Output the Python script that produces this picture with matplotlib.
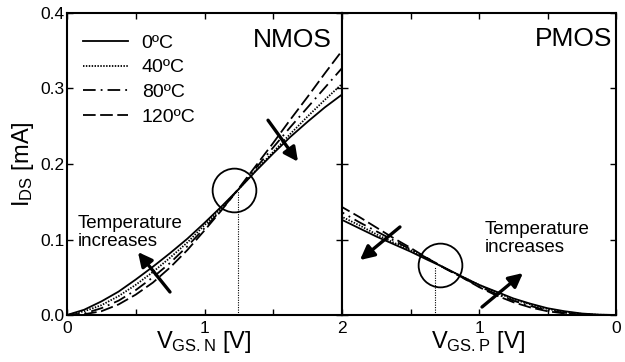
import matplotlib
matplotlib.use('Agg')
import matplotlib.pyplot as plt

plt.rcParams['font.family'] = ['Liberation Sans', 'DejaVu Sans']
plt.rcParams['mathtext.fontset'] = 'custom'
plt.rcParams['mathtext.rm'] = 'Liberation Sans'
plt.rcParams['mathtext.it'] = 'Liberation Sans:italic'
plt.rcParams['mathtext.bf'] = 'Liberation Sans:bold'

# ---------------- data ----------------
temps = ['0ºC', '40ºC', '80ºC', '120ºC']
v_gs = [0, 0.125, 0.25, 0.375, 0.5, 0.625, 0.75, 0.875, 1.0,
        1.125, 1.25, 1.375, 1.5, 1.625, 1.75, 1.875, 2.0]

nmos_0 = [0, 0.007, 0.018, 0.031, 0.047, 0.064, 0.082, 0.101, 0.122,
          0.144, 0.167, 0.191, 0.214, 0.236, 0.256, 0.275, 0.292]
nmos_40 = [0, 0.005, 0.013, 0.025, 0.040, 0.057, 0.076, 0.096, 0.119,
           0.142, 0.167, 0.192, 0.216, 0.240, 0.263, 0.285, 0.306]
nmos_80 = [0, 0.002, 0.009, 0.019, 0.033, 0.050, 0.069, 0.091, 0.115,
           0.140, 0.167, 0.195, 0.222, 0.249, 0.275, 0.301, 0.327]
nmos_120 = [0, 0.001, 0.005, 0.014, 0.027, 0.043, 0.063, 0.086, 0.112,
            0.139, 0.168, 0.198, 0.228, 0.259, 0.289, 0.320, 0.350]

pmos_0 = [0, 0.0005, 0.002, 0.005, 0.009, 0.015, 0.022, 0.031, 0.040,
          0.051, 0.0625, 0.073, 0.084, 0.094, 0.104, 0.115, 0.126]
pmos_40 = [0, 0.0003, 0.0015, 0.004, 0.008, 0.014, 0.021, 0.030, 0.040,
           0.051, 0.062, 0.075, 0.086, 0.096, 0.107, 0.119, 0.130]
pmos_80 = [0, 0.0001, 0.001, 0.003, 0.006, 0.012, 0.019, 0.028, 0.038,
           0.050, 0.062, 0.075, 0.087, 0.099, 0.111, 0.123, 0.136]
pmos_120 = [0, 0.0, 0.0005, 0.002, 0.005, 0.010, 0.017, 0.026, 0.037,
            0.050, 0.062, 0.075, 0.089, 0.102, 0.116, 0.130, 0.143]

nmos_curves = [nmos_0, nmos_40, nmos_80, nmos_120]
pmos_curves = [pmos_0, pmos_40, pmos_80, pmos_120]

# temperature-independent points (circle centre and dotted marker line)
nmos_ztc = (1.218, 0.166)
nmos_ztc_line = (1.245, 0.166)
pmos_ztc = (1.288, 0.066)
pmos_ztc_line = (1.32, 0.064)

x_ticks = [0, 0.5, 1, 1.5, 2]
nmos_xticklabels = ['0', '', '1', '', '2']
pmos_xticklabels = ['0', '', '1', '', '']
y_ticks = [0, 0.1, 0.2, 0.3, 0.4]
y_ticklabels = ['0.0', '0.1', '0.2', '0.3', '0.4']

# ---------------- style ----------------
styles = ['-', (0, (0.8, 0.8)), (0, (7, 2.8, 1, 2.8)), (0, (7, 2.5))]

fig = plt.figure(figsize=(6.25, 3.62), dpi=100)
axN = fig.add_axes([0.1072, 0.1298, 0.44, 0.8343])
axP = fig.add_axes([0.5472, 0.1298, 0.4384, 0.8343])

for ax, curves in ((axN, nmos_curves), (axP, pmos_curves)):
    for c, ls, lab in zip(curves, styles, temps):
        ax.plot(v_gs, c, color='black', lw=1.3, linestyle=ls, label=lab)
    ax.set_ylim(0, 0.4)
    ax.set_yticks(y_ticks)
    ax.set_xticks(x_ticks)
    for s in ax.spines.values():
        s.set_linewidth(1.5)
    ax.tick_params(direction='in', length=4, width=1, top=True, right=True,
                   labelsize=12.5, colors='black')
    ax.tick_params(axis='x', pad=4)
    ax.tick_params(axis='y', pad=2)

axN.set_xlim(0, 2)
axP.set_xlim(2, 0)
axN.set_xticklabels(nmos_xticklabels)
axP.set_xticklabels(pmos_xticklabels)
axN.set_yticklabels(y_ticklabels)
axP.set_yticklabels([])

# circles and dotted marker lines
for ax, ctr, ln in ((axN, nmos_ztc, nmos_ztc_line), (axP, pmos_ztc, pmos_ztc_line)):
    ax.plot([ctr[0]], [ctr[1]], marker='o', ms=31.5, mfc='none', mec='black', mew=1.3)
    ax.plot([ln[0], ln[0]], [0, ln[1]], color='black', lw=0.8, linestyle=(0, (1, 1.2)))

# arrows
arrow_kw = dict(arrowstyle='-|>', lw=2.4, color='black', mutation_scale=21,
                shrinkA=0, shrinkB=0)
axN.annotate('', xy=(0.516, 0.0834), xytext=(0.749, 0.0305), arrowprops=arrow_kw)
axN.annotate('', xy=(1.68, 0.203), xytext=(1.462, 0.258), arrowprops=arrow_kw)
axP.annotate('', xy=(1.869, 0.0728), xytext=(1.577, 0.1166), arrowprops=arrow_kw)
axP.annotate('', xy=(0.679, 0.0556), xytext=(0.978, 0.0106), arrowprops=arrow_kw)

# texts
axN.text(0.964, 0.950, 'NMOS', transform=axN.transAxes, ha='right', va='top', fontsize=19)
axP.text(0.985, 0.955, 'PMOS', transform=axP.transAxes, ha='right', va='top', fontsize=19)
axN.text(0.04, 0.33, 'Temperature\nincreases', transform=axN.transAxes,
         ha='left', va='top', fontsize=13.5, linespacing=1.05)
axP.text(0.52, 0.31, 'Temperature\nincreases', transform=axP.transAxes,
         ha='left', va='top', fontsize=13.5, linespacing=1.05)

axN.legend(loc='upper left', bbox_to_anchor=(0.058, 0.93), frameon=False,
           fontsize=14, handlelength=2.3, handletextpad=0.72, labelspacing=0.36,
           borderpad=0, borderaxespad=0)

fig.text(23 / 625, 1 - 164 / 362, r'I$_{\mathrm{DS}}$ [mA]', rotation=90,
         ha='center', va='center', fontsize=17)
fig.text(204 / 625, 1 - 342 / 362, r'V$_{\mathrm{GS.N}}$ [V]', ha='center', va='center', fontsize=17)
fig.text(478 / 625, 1 - 342 / 362, r'V$_{\mathrm{GS.P}}$ [V]', ha='center', va='center', fontsize=17)

fig.savefig('out.png', dpi=100)
